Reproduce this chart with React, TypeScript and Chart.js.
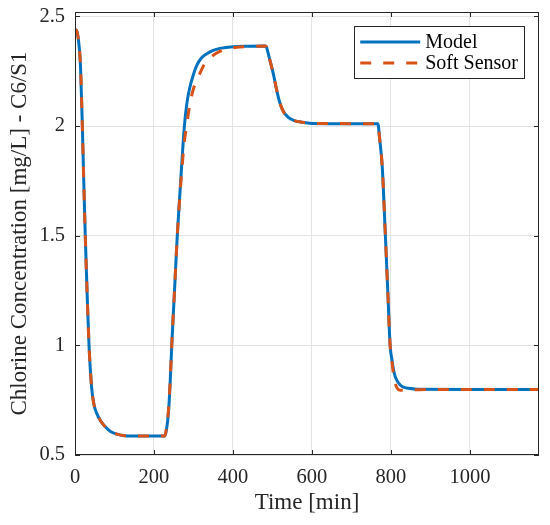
import { useEffect, useRef } from "react"
import { Chart, registerables } from "chart.js"

Chart.register(...registerables)

// values
const modelTime = [
  0, 4, 8.5, 14, 18.6, 22, 26, 31, 35.5, 42, 48, 55, 65, 76, 90, 106, 125, 150, 228,
  232, 236.5, 241, 245, 252, 259, 268, 277, 283, 290, 300, 308, 320, 334, 350, 367, 400, 440, 482,
  485, 488, 495, 502, 510, 518, 528, 540, 555, 575, 600, 700, 767,
  771, 778, 786, 792, 798, 803, 807, 811, 817, 823, 830, 845, 866, 1000, 1175,
]
const modelValues = [
  2.44, 2.435, 2.395, 2.27, 2.0, 1.76, 1.5, 1.22, 1.0, 0.81, 0.73, 0.69, 0.655, 0.63, 0.607, 0.595, 0.588, 0.587, 0.587,
  0.62, 0.69, 0.83, 1.0, 1.25, 1.5, 1.76, 2.0, 2.1, 2.17, 2.235, 2.275, 2.31, 2.33, 2.345, 2.354, 2.362, 2.364, 2.365,
  2.36, 2.34, 2.29, 2.24, 2.17, 2.11, 2.065, 2.04, 2.025, 2.017, 2.012, 2.011, 2.011,
  1.95, 1.816, 1.5, 1.25, 1.0, 0.93, 0.885, 0.857, 0.835, 0.82, 0.811, 0.804, 0.8, 0.799, 0.799,
]

const sensorTime = [
  0, 4, 8.5, 14, 18.6, 22, 26, 31, 35.5, 42, 48, 55, 65, 76, 90, 106, 125, 150, 228,
  232, 236.5, 241, 245, 252, 259, 268, 277, 281, 291, 300, 308, 320, 330, 345, 360, 385, 410, 435, 482,
  485, 488, 495, 502, 510, 518, 528, 540, 555, 575, 600, 700, 767,
  771, 778, 786, 792, 798, 803, 807, 812, 818, 826, 840, 870, 1000, 1175,
]
const sensorValues = [
  2.44, 2.435, 2.395, 2.27, 2.0, 1.76, 1.5, 1.22, 1.0, 0.81, 0.73, 0.69, 0.655, 0.63, 0.607, 0.595, 0.588, 0.587, 0.587,
  0.63, 0.7, 0.84, 1.0, 1.25, 1.5, 1.74, 1.93, 1.98, 2.1, 2.17, 2.205, 2.255, 2.288, 2.315, 2.334, 2.352, 2.359, 2.362, 2.365,
  2.36, 2.34, 2.29, 2.24, 2.17, 2.11, 2.065, 2.04, 2.025, 2.017, 2.012, 2.011, 2.011,
  1.95, 1.816, 1.5, 1.25, 1.0, 0.92, 0.86, 0.82, 0.8, 0.795, 0.795, 0.798, 0.799, 0.799,
]

const xTicks = [0, 200, 400, 600, 800, 1000]
const yTicks = [0.5, 1, 1.5, 2, 2.5]

const AXIS = "#262626"
const GRID = "#e3e3e3"
const BLUE = "#0072BD"
const ORANGE = "#D95319"
const FONT = "'Liberation Serif', 'Times New Roman', serif"

// MATLAB-like box with inward ticks on all sides
const boxPlugin = {
  id: "box",
  afterDatasetsDraw(chart: any) {
    const { ctx, chartArea, scales } = chart
    const { left, right, top, bottom } = chartArea
    const len = 5
    ctx.save()
    ctx.strokeStyle = AXIS
    ctx.lineWidth = 1
    ctx.strokeRect(left + 0.5, top + 0.5, right - left - 1, bottom - top - 1)
    ctx.beginPath()
    for (const v of xTicks) {
      const x = Math.round(scales.x.getPixelForValue(v)) + 0.5
      ctx.moveTo(x, bottom)
      ctx.lineTo(x, bottom - len)
      ctx.moveTo(x, top)
      ctx.lineTo(x, top + len)
    }
    for (const v of yTicks) {
      const y = Math.round(scales.y.getPixelForValue(v)) + 0.5
      ctx.moveTo(left, y)
      ctx.lineTo(left + len, y)
      ctx.moveTo(right, y)
      ctx.lineTo(right - len, y)
    }
    ctx.stroke()
    ctx.restore()
  },
}

const legendPlugin = {
  id: "innerLegend",
  afterDraw(chart: any) {
    const { ctx, chartArea } = chart
    const sets = chart.data.datasets
    ctx.save()
    ctx.font = `20px ${FONT}`
    const textW = Math.max(...sets.map((d: any) => ctx.measureText(d.label).width))
    const lineLen = 60
    const w = 6 + lineLen + 5 + textW + 6
    const h = 52
    const x0 = chartArea.right - 15 - w
    const y0 = chartArea.top + 14
    ctx.fillStyle = "#fff"
    ctx.fillRect(x0, y0, w, h)
    ctx.strokeStyle = AXIS
    ctx.lineWidth = 1
    ctx.strokeRect(Math.round(x0) + 0.5, Math.round(y0) + 0.5, Math.round(w), h)
    sets.forEach((d: any, i: number) => {
      const y = y0 + 16 + i * 21
      ctx.strokeStyle = d.borderColor
      ctx.lineWidth = d.borderWidth
      ctx.setLineDash(d.borderDash || [])
      ctx.beginPath()
      ctx.moveTo(x0 + 6, y)
      ctx.lineTo(x0 + 6 + lineLen, y)
      ctx.stroke()
      ctx.setLineDash([])
      ctx.fillStyle = "#000"
      ctx.textBaseline = "middle"
      ctx.fillText(d.label, x0 + 6 + lineLen + 5, y + 1)
    })
    ctx.restore()
  },
}

export default function App() {
  const chartRef = useRef<HTMLCanvasElement>(null)
  const chartInstance = useRef<Chart | null>(null)

  useEffect(() => {
    if (!chartRef.current) return
    if (chartInstance.current) chartInstance.current.destroy()
    const ctx = chartRef.current.getContext("2d")
    if (!ctx) return

    chartInstance.current = new Chart(ctx, {
      type: "line",
      data: {
        datasets: [
          {
            label: "Model",
            data: modelTime.map((t, i) => ({ x: t, y: modelValues[i] })),
            borderColor: BLUE,
            borderWidth: 3,
            pointRadius: 0,
            cubicInterpolationMode: "monotone",
            order: 2,
          },
          {
            label: "Soft Sensor",
            data: sensorTime.map((t, i) => ({ x: t, y: sensorValues[i] })),
            borderColor: ORANGE,
            borderWidth: 3,
            borderDash: [11, 12],
            pointRadius: 0,
            cubicInterpolationMode: "monotone",
            order: 1,
          },
        ],
      },
      options: {
        animation: false,
        responsive: false,
        layout: { padding: { top: 12, right: 11, left: 0, bottom: 0 } },
        plugins: { legend: { display: false }, tooltip: { enabled: false } },
        scales: {
          x: {
            type: "linear",
            min: 0,
            max: 1175,
            afterBuildTicks: (scale: any) => {
              scale.ticks = xTicks.map((v) => ({ value: v }))
            },
            afterFit: (scale: any) => {
              scale.height = 70
              scale.paddingLeft = 0
              scale.paddingRight = 0
            },
            grid: { color: GRID, drawTicks: false },
            border: { display: false },
            ticks: {
              color: AXIS,
              padding: 12,
              maxRotation: 0,
              font: { family: FONT, size: 20.5, lineHeight: 1 },
              callback: (v: any) => String(v),
            },
            title: {
              display: true,
              text: "Time [min]",
              color: AXIS,
              padding: { top: 0, bottom: 8 },
              font: { family: FONT, size: 23 },
            },
          },
          y: {
            type: "linear",
            min: 0.5,
            max: 2.52,
            afterBuildTicks: (scale: any) => {
              scale.ticks = yTicks.map((v) => ({ value: v }))
            },
            afterFit: (scale: any) => {
              scale.width = 75
              scale.paddingTop = 0
              scale.paddingBottom = 0
            },
            grid: { color: GRID, drawTicks: false },
            border: { display: false },
            ticks: {
              color: AXIS,
              padding: 10,
              font: { family: FONT, size: 20.5, lineHeight: 1 },
              callback: (v: any) => String(v),
            },
            title: {
              display: true,
              text: "Chlorine Concentration [mg/L] - C6/S1",
              color: AXIS,
              padding: { top: 6, bottom: 0 },
              font: { family: FONT, size: 23 },
            },
          },
        },
      },
      plugins: [boxPlugin, legendPlugin],
    })

    return () => {
      if (chartInstance.current) {
        chartInstance.current.destroy()
        chartInstance.current = null
      }
    }
  }, [])

  return (
    <div style={{ position: "fixed", left: 0, top: 0, width: 550, height: 525, background: "#fff" }}>
      <canvas ref={chartRef} width={550} height={525} />
    </div>
  )
}
